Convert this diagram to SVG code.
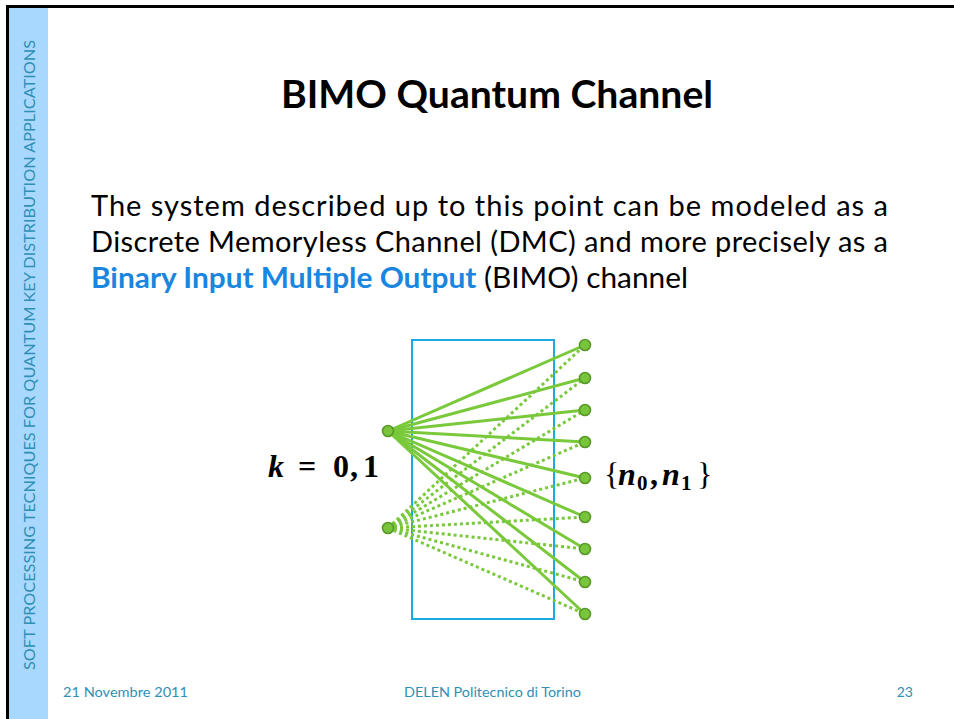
<svg xmlns="http://www.w3.org/2000/svg" width="954" height="719" viewBox="0 0 954 719">
  <style>
    .side { font-family: Lato, "Open Sans", sans-serif; font-size: 16px; fill: #2F8FB4; }
    .foot { font-family: Lato, "Open Sans", sans-serif; font-size: 14px; fill: #2F8FB4; }
    .title { font-family: Lato, "Open Sans", sans-serif; font-size: 38px; font-weight: bold; fill: #000; }
    .body { font-family: Lato, "Open Sans", sans-serif; font-size: 29px; fill: #000; }
    .hl { font-weight: bold; fill: #1A86E0; }
    .math { font-family: "Liberation Serif", "DejaVu Serif", serif; font-size: 32px; font-weight: bold; fill: #000; }
    .brace { font-weight: normal; }
    .it { font-style: italic; }
    .sub { font-size: 21px; }
    .solid { stroke: #79C93B; stroke-width: 3; fill: none; stroke-linecap: round; }
    .dot { stroke: #79C93B; stroke-width: 3; fill: none; stroke-dasharray: 3 3; }
    .node { fill: #78C43A; stroke: #5A982B; stroke-width: 1.6; }
  </style>

  <!-- slide frame and sidebar -->
  <rect x="0" y="0" width="954" height="719" fill="#ffffff"/>
  <rect x="9" y="8" width="39" height="711" fill="#A9D8FF"/>
  <line x1="6" y1="6.5" x2="954" y2="6.5" stroke="#000" stroke-width="3"/>
  <line x1="7.5" y1="5" x2="7.5" y2="719" stroke="#000" stroke-width="3"/>
  <text class="side" transform="translate(35,355) rotate(-90)" text-anchor="middle" textLength="630" lengthAdjust="spacingAndGlyphs">SOFT PROCESSING TECNIQUES FOR QUANTUM KEY DISTRIBUTION APPLICATIONS</text>

  <!-- title and body -->
  <text class="title" x="497" y="108" text-anchor="middle" textLength="432" lengthAdjust="spacingAndGlyphs">BIMO Quantum Channel</text>
  <text class="body" x="91" y="216" textLength="797" lengthAdjust="spacing">The system described up to this point can be modeled as a</text>
  <text class="body" x="91" y="252" textLength="797" lengthAdjust="spacing">Discrete Memoryless Channel (DMC) and more precisely as a</text>
  <text class="body" x="91" y="288" textLength="597" lengthAdjust="spacingAndGlyphs"><tspan class="hl">Binary Input Multiple Output</tspan> (BIMO) channel</text>

  <!-- channel box -->
  <g id="channel">
    <rect x="412" y="340" width="142" height="279" fill="none" stroke="#1CA9DF" stroke-width="2"/>
  </g>

  <!-- transitions -->
  <g id="connectors">
    <g id="from-top">
      <line class="solid" x1="388" y1="431" x2="585" y2="345"/>
      <line class="solid" x1="388" y1="431" x2="585" y2="378"/>
      <line class="solid" x1="388" y1="431" x2="585" y2="410"/>
      <line class="solid" x1="388" y1="431" x2="585" y2="442"/>
      <line class="solid" x1="388" y1="431" x2="585" y2="478"/>
      <line class="solid" x1="388" y1="431" x2="585" y2="517"/>
      <line class="solid" x1="388" y1="431" x2="585" y2="549"/>
      <line class="solid" x1="388" y1="431" x2="585" y2="582"/>
      <line class="solid" x1="388" y1="431" x2="585" y2="614"/>
    </g>
    <g id="from-bottom">
      <line class="dot" x1="388" y1="528" x2="585" y2="345"/>
      <line class="dot" x1="388" y1="528" x2="585" y2="378"/>
      <line class="dot" x1="388" y1="528" x2="585" y2="410"/>
      <line class="dot" x1="388" y1="528" x2="585" y2="442"/>
      <line class="dot" x1="388" y1="528" x2="585" y2="478"/>
      <line class="dot" x1="388" y1="528" x2="585" y2="517"/>
      <line class="dot" x1="388" y1="528" x2="585" y2="549"/>
      <line class="dot" x1="388" y1="528" x2="585" y2="582"/>
      <line class="dot" x1="388" y1="528" x2="585" y2="614"/>
    </g>
  </g>

  <!-- input symbols -->
  <g id="in-0"><circle class="node" cx="388" cy="431" r="5.5"/></g>
  <g id="in-1"><circle class="node" cx="388" cy="528" r="5.5"/></g>

  <!-- output symbols -->
  <g id="out-0"><circle class="node" cx="585" cy="345" r="5.5"/></g>
  <g id="out-1"><circle class="node" cx="585" cy="378" r="5.5"/></g>
  <g id="out-2"><circle class="node" cx="585" cy="410" r="5.5"/></g>
  <g id="out-3"><circle class="node" cx="585" cy="442" r="5.5"/></g>
  <g id="out-4"><circle class="node" cx="585" cy="478" r="5.5"/></g>
  <g id="out-5"><circle class="node" cx="585" cy="517" r="5.5"/></g>
  <g id="out-6"><circle class="node" cx="585" cy="549" r="5.5"/></g>
  <g id="out-7"><circle class="node" cx="585" cy="582" r="5.5"/></g>
  <g id="out-8"><circle class="node" cx="585" cy="614" r="5.5"/></g>

  <!-- labels -->
  <text class="math" y="477"><tspan class="it" x="268">k</tspan><tspan x="298">=</tspan><tspan x="333">0</tspan><tspan x="350">,</tspan><tspan x="363">1</tspan></text>
  <text class="math" y="485"><tspan class="brace" x="604">{</tspan><tspan class="it" x="618">n</tspan><tspan class="sub" x="637" dy="5">0</tspan><tspan x="650" dy="-5">,</tspan><tspan class="it" x="662">n</tspan><tspan class="sub" x="681" dy="5">1</tspan><tspan class="brace" x="697" dy="-5">}</tspan></text>

  <!-- footer -->
  <text class="foot" x="63" y="697" textLength="125" lengthAdjust="spacingAndGlyphs">21 Novembre 2011</text>
  <text class="foot" x="404" y="697" textLength="177" lengthAdjust="spacingAndGlyphs">DELEN Politecnico di Torino</text>
  <text class="foot" x="913" y="697" text-anchor="end">23</text>
</svg>
